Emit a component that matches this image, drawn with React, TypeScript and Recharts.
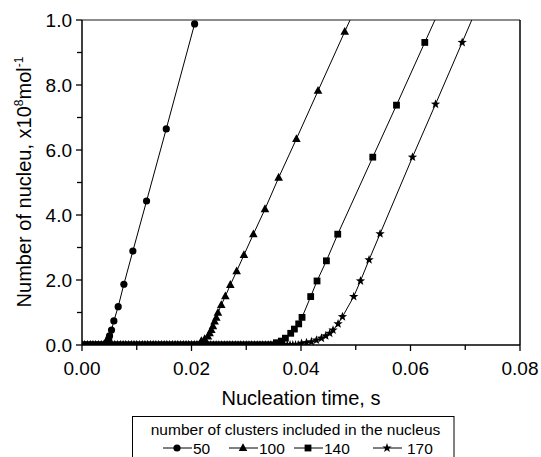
import React from 'react';
import { LineChart, Line, XAxis, YAxis, ReferenceLine } from 'recharts';

// ---- data (time in s, value in 10^8 mol^-1) ----
// points lying on the zero line before nucleation starts (value 0)
const s50ZeroTime = [0, 0.0005, 0.001, 0.0015, 0.002, 0.0025, 0.003, 0.0035, 0.004, 0.0043];
const s100ZeroTime = [0, 0.0005, 0.001, 0.0015, 0.002, 0.0025, 0.003, 0.0035, 0.004, 0.0045, 0.005, 0.0055, 0.006, 0.0065, 0.007, 0.0075, 0.008, 0.0085, 0.009, 0.0095,
  0.01, 0.0105, 0.011, 0.0115, 0.012, 0.0125, 0.013, 0.0135, 0.014, 0.0145, 0.015, 0.0155, 0.016, 0.0165, 0.017, 0.0175, 0.018, 0.0185, 0.019, 0.0195, 0.02, 0.0205, 0.021, 0.0214];
const s140ZeroTime = [0, 0.0005, 0.001, 0.0015, 0.002, 0.0025, 0.003, 0.0035, 0.004, 0.0045, 0.005, 0.0055, 0.006, 0.0065, 0.007, 0.0075, 0.008, 0.0085, 0.009, 0.0095,
  0.01, 0.0105, 0.011, 0.0115, 0.012, 0.0125, 0.013, 0.0135, 0.014, 0.0145, 0.015, 0.0155, 0.016, 0.0165, 0.017, 0.0175, 0.018, 0.0185, 0.019, 0.0195,
  0.02, 0.0205, 0.021, 0.0215, 0.022, 0.0225, 0.023, 0.0235, 0.024, 0.0245, 0.025, 0.0255, 0.026, 0.0265, 0.027, 0.0275, 0.028, 0.0285, 0.029, 0.0295,
  0.03, 0.0305, 0.031, 0.0315, 0.032, 0.0325, 0.033, 0.0335, 0.034, 0.0345, 0.035];
const s170ZeroTime = [0, 0.0005, 0.001, 0.0015, 0.002, 0.0025, 0.003, 0.0035, 0.004, 0.0045, 0.005, 0.0055, 0.006, 0.0065, 0.007, 0.0075, 0.008, 0.0085, 0.009, 0.0095,
  0.01, 0.0105, 0.011, 0.0115, 0.012, 0.0125, 0.013, 0.0135, 0.014, 0.0145, 0.015, 0.0155, 0.016, 0.0165, 0.017, 0.0175, 0.018, 0.0185, 0.019, 0.0195,
  0.02, 0.0205, 0.021, 0.0215, 0.022, 0.0225, 0.023, 0.0235, 0.024, 0.0245, 0.025, 0.0255, 0.026, 0.0265, 0.027, 0.0275, 0.028, 0.0285, 0.029, 0.0295,
  0.03, 0.0305, 0.031, 0.0315, 0.032, 0.0325, 0.033, 0.0335, 0.034, 0.0345, 0.035, 0.0355, 0.036, 0.0365, 0.037, 0.0375, 0.038, 0.0385, 0.039, 0.0395];

// points after nucleation starts
const s50Time = [0.0046, 0.00485, 0.00503, 0.00539, 0.00582, 0.00661, 0.00765, 0.00929, 0.01179, 0.01539, 0.02057];
const s50Value = [0.1, 0.18, 0.28, 0.46, 0.74, 1.18, 1.87, 2.89, 4.43, 6.65, 9.88];

const s100Time = [0.0218, 0.0224, 0.023, 0.02331, 0.02362, 0.02391, 0.02422, 0.02453, 0.02483, 0.02544, 0.02618, 0.02709, 0.02825, 0.02958, 0.0313, 0.03342, 0.03592, 0.03916, 0.04311, 0.04799, 0.0527];
const s100Value = [0.12, 0.18, 0.26, 0.36, 0.46, 0.58, 0.72, 0.84, 0.99, 1.23, 1.5, 1.85, 2.27, 2.77, 3.41, 4.18, 5.15, 6.34, 7.82, 9.64, 11.39];

const s140Time = [0.0355, 0.03641, 0.03715, 0.03812, 0.03879, 0.03958, 0.04019, 0.04177, 0.04293, 0.04464, 0.04671, 0.05311, 0.05744, 0.06261, 0.0685];
const s140Value = [0.07, 0.12, 0.21, 0.36, 0.49, 0.65, 0.85, 1.49, 1.97, 2.59, 3.41, 5.78, 7.38, 9.31, 11.5];

const s170Time = [0.0401, 0.041, 0.0419, 0.04282, 0.04373, 0.04452, 0.04525, 0.04585, 0.04677, 0.04757, 0.04963, 0.05086, 0.05243, 0.05444, 0.06036, 0.06457, 0.06944, 0.075];
const s170Value = [0.05, 0.07, 0.1, 0.15, 0.21, 0.28, 0.36, 0.46, 0.65, 0.87, 1.49, 1.97, 2.62, 3.42, 5.78, 7.41, 9.31, 11.5];

const xTicks = [0, 0.01, 0.02, 0.03, 0.04, 0.05, 0.06, 0.07, 0.08];
const xTickLabels = ['0.00', '', '0.02', '', '0.04', '', '0.06', '', '0.08'];
const yTicks = [0, 1, 2, 3, 4, 5, 6, 7, 8, 9, 10];
const yTickLabels = ['0.0', '', '2.0', '', '4.0', '', '6.0', '', '8.0', '', '1.0'];

const seriesNames = ['50', '100', '140', '170'];
const legendTitle = 'number of clusters included in the nucleus';
const xTitle = 'Nucleation time, s';

const build = (zero: number[], t: number[], v: number[]) => [
  ...zero.map((tt) => ({ t: tt, v: 0 })),
  ...t.map((tt, i) => ({ t: tt, v: v[i] })),
];
const d50 = build(s50ZeroTime, s50Time, s50Value);
const d100 = build(s100ZeroTime, s100Time, s100Value);
const d140 = build(s140ZeroTime, s140Time, s140Value);
const d170 = build(s170ZeroTime, s170Time, s170Value);

const FONT = '"Liberation Sans", Arial, Helvetica, sans-serif';

// ---- marker shapes ----
const circleShape = (cx: number, cy: number) => <circle cx={cx} cy={cy} r={3.6} fill="#000" />;
const triShape = (cx: number, cy: number) => (
  <polygon points={`${cx},${cy - 4.8} ${cx - 4.3},${cy + 3} ${cx + 4.3},${cy + 3}`} fill="#000" />
);
const sqShape = (cx: number, cy: number) => <rect x={cx - 3.4} y={cy - 3.4} width={6.8} height={6.8} fill="#000" />;
const starShape = (cx: number, cy: number) => {
  const pts: string[] = [];
  for (let k = 0; k < 10; k++) {
    const r = k % 2 === 0 ? 4.9 : 2.0;
    const a = -Math.PI / 2 + (k * Math.PI) / 5;
    pts.push(`${cx + r * Math.cos(a)},${cy + r * Math.sin(a)}`);
  }
  return <polygon points={pts.join(' ')} fill="#000" />;
};

const makeDot = (shape: (cx: number, cy: number) => React.ReactElement, name: string) => (props: any) => {
  const { cx, cy, index } = props;
  if (cx == null || cy == null) return <g key={`${name}-${index}`} />;
  return <g key={`${name}-${index}`}>{shape(cx, cy)}</g>;
};

const YTick = (props: any) => {
  const { x, y, payload } = props;
  const i = yTicks.indexOf(payload.value);
  const label = i >= 0 ? yTickLabels[i] : '';
  const major = label !== '';
  return (
    <g>
      <line x1={x - (major ? 6 : 5)} x2={x} y1={y} y2={y} stroke="#000" strokeWidth={1.3} />
      {major && (
        <text x={x - 10} y={y} dy="0.36em" textAnchor="end" fontSize={19} fontFamily={FONT} fill="#000">
          {label}
        </text>
      )}
    </g>
  );
};

const XTick = (props: any) => {
  const { x, y, payload } = props;
  const i = xTicks.findIndex((v) => Math.abs(v - payload.value) < 1e-9);
  const label = i >= 0 ? xTickLabels[i] : '';
  const major = label !== '';
  return (
    <g>
      <line x1={x} x2={x} y1={y} y2={y + (major ? 6 : 5)} stroke="#000" strokeWidth={1.3} />
      {major && (
        <text x={x} y={y + 30} textAnchor="middle" fontSize={19} fontFamily={FONT} fill="#000">
          {label}
        </text>
      )}
    </g>
  );
};

const legendShapes = [circleShape, triShape, sqShape, starShape];
const legendStarts = [163, 229, 294, 373];

export default function App() {
  return (
    <div style={{ position: 'absolute', left: 0, top: 0, width: 541, height: 457, background: '#fff', overflow: 'hidden' }}>
      <LineChart width={541} height={457} data={d50} margin={{ top: 20, right: 21, bottom: 62, left: 0 }}>
        <XAxis
          type="number"
          dataKey="t"
          domain={[0, 0.08]}
          ticks={xTicks}
          interval={0}
          allowDataOverflow
          height={50}
          tickSize={0}
          tickMargin={0}
          tickLine={false}
          tick={<XTick />}
          axisLine={{ stroke: '#000', strokeWidth: 1.5 }}
        />
        <YAxis
          type="number"
          domain={[0, 10]}
          ticks={yTicks}
          interval={0}
          allowDataOverflow
          width={82}
          tickSize={0}
          tickMargin={0}
          tickLine={false}
          tick={<YTick />}
          axisLine={{ stroke: '#000', strokeWidth: 1.5 }}
        />
        <ReferenceLine y={10} stroke="#666" strokeWidth={1.5} ifOverflow="visible" />
        <ReferenceLine x={0.08} stroke="#000" strokeWidth={1.5} ifOverflow="visible" />
        <Line data={d50} dataKey="v" name={seriesNames[0]} stroke="#000" strokeWidth={1} dot={makeDot(circleShape, 'c')} activeDot={false} isAnimationActive={false} />
        <Line data={d100} dataKey="v" name={seriesNames[1]} stroke="#000" strokeWidth={1} dot={makeDot(triShape, 't')} activeDot={false} isAnimationActive={false} />
        <Line data={d140} dataKey="v" name={seriesNames[2]} stroke="#000" strokeWidth={1} dot={makeDot(sqShape, 's')} activeDot={false} isAnimationActive={false} />
        <Line data={d170} dataKey="v" name={seriesNames[3]} stroke="#000" strokeWidth={1} dot={makeDot(starShape, 'st')} activeDot={false} isAnimationActive={false} />
      </LineChart>
      <svg width={541} height={457} style={{ position: 'absolute', left: 0, top: 0, pointerEvents: 'none' }}>
        <text transform="translate(31,182) rotate(-90)" textAnchor="middle" fontSize={20} fontFamily={FONT} fill="#000">
          Number of nucleu, x10<tspan dy={-8} fontSize={12}>8</tspan>
          <tspan dy={8} fontSize={20}>mol</tspan>
          <tspan dy={-8} fontSize={12}>-1</tspan>
        </text>
        <text x={301} y={405} textAnchor="middle" fontSize={20} fontFamily={FONT} fill="#000">
          {xTitle}
        </text>
        <rect x={132.5} y={416.5} width={321.5} height={60} fill="none" stroke="#000" strokeWidth={1} />
        <text x={295.5} y={435} textAnchor="middle" fontSize={15.5} fontFamily={FONT} fill="#000">
          {legendTitle}
        </text>
        {seriesNames.map((name, i) => {
          const s = legendStarts[i];
          const m = s + 14;
          return (
            <g key={name}>
              <line x1={s} x2={s + 29} y1={448} y2={448} stroke="#000" strokeWidth={1} />
              {legendShapes[i](m, 448)}
              <text x={s + (i === 3 ? 34 : 30)} y={453.5} fontSize={15.5} fontFamily={FONT} fill="#000">
                {name}
              </text>
            </g>
          );
        })}
      </svg>
    </div>
  );
}
